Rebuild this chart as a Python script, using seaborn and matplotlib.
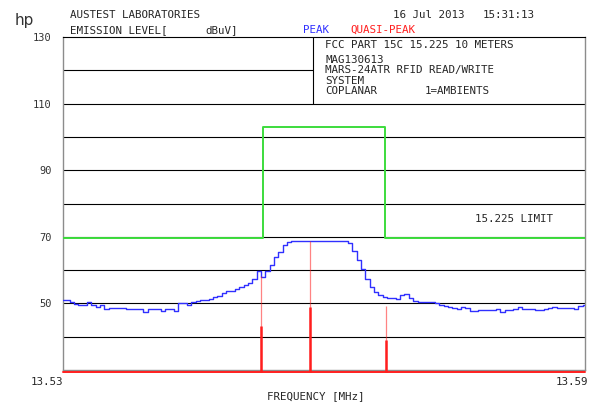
import numpy as np
import pandas as pd
import matplotlib
matplotlib.use("Agg")
import matplotlib.pyplot as plt
import seaborn as sns

# --- datos ---
f_ini, f_fin = 13.53, 13.59

# traza PEAK (dBuV), muestreada cada 0.0005 MHz de 13.53 a 13.59
peak_level = [
    51.0, 51.0, 50.4, 49.9, 49.5, 49.5, 50.4, 49.6, 48.8, 49.5,
    48.4, 48.6, 48.5, 48.5, 48.6, 48.4, 48.3, 48.4, 48.2, 47.3,
    48.3, 48.4, 48.3, 47.8, 48.4, 48.3, 47.6, 50.0, 50.2, 49.6,
    50.5, 50.8, 50.9, 51.1, 51.4, 51.8, 52.2, 53.0, 53.6, 53.8,
    54.4, 55.0, 55.6, 56.0, 57.2, 59.8, 58.0, 59.8, 61.6, 64.0,
    65.5, 67.4, 68.5, 68.7, 68.7, 68.7, 68.7, 68.7, 68.7, 68.7,
    68.7, 68.7, 68.7, 68.7, 68.7, 68.7, 68.0, 65.6, 63.0, 60.4,
    57.2, 54.8, 53.3, 52.4, 51.9, 51.6, 51.5, 51.3, 52.6, 52.8,
    51.6, 50.8, 50.4, 50.5, 50.4, 50.3, 50.0, 49.4, 49.2, 49.0,
    48.6, 48.2, 48.9, 48.6, 47.8, 47.6, 48.0, 48.1, 47.9, 48.0,
    48.2, 47.3, 47.9, 47.9, 48.2, 48.8, 48.4, 48.2, 48.4, 48.1,
    47.9, 48.4, 48.7, 49.0, 48.6, 48.5, 48.5, 48.5, 48.2, 49.2,
    49.4,
]
peak_freq = np.linspace(f_ini, f_fin, len(peak_level))

# limite FCC 15.225 a 10 m
limite_freq = [13.53, 13.553, 13.553, 13.567, 13.567, 13.59]
limite_level = [69.5, 69.5, 103.1, 103.1, 69.5, 69.5]

# mediciones QUASI-PEAK
qp_freq = [13.5528, 13.5584, 13.5671]
qp_level = [43.3, 49.0, 39.1]
qp_peak = [58.3, 68.7, 49.3]
qp_base = 29.3

grid_levels = [40, 50, 60, 70, 80, 90, 100, 110]
ytick_vals = [50, 70, 90, 110, 130]

info_lineas = [
    ("FCC PART 15C 15.225 10 METERS", 45),
    ("MAG130613", 60),
    ("MARS-24ATR RFID READ/WRITE", 70.5),
    ("SYSTEM", 81),
    ("COPLANAR", 91.5),
]

AZUL = "#3030ff"
ROJO = "#ff1e1e"
VERDE = "#3cdc3c"
GRIS = "#8c8c8c"
W, H = 590, 404


def px(x, y):
    return x / W, 1 - y / H


sns.set_style("white")
plt.rcParams["font.family"] = ["DejaVu Sans Mono", "DejaVu Sans"]

fig = plt.figure(figsize=(W / 100, H / 100), dpi=100)
ax = fig.add_axes([63 / W, 1 - 370 / H, 522 / W, 333 / H])
ax.set_xlim(f_ini, f_fin)
ax.set_ylim(30, 130)

# rejilla
for g in grid_levels:
    ax.axhline(g, color="black", lw=0.8, zorder=1)
ax.axhline(120, xmax=0.479, color="black", lw=0.8, zorder=1)
ax.plot([0.479, 0.479], [0.8, 1.0], transform=ax.transAxes, color="black", lw=0.8, zorder=1)

# limite
df_lim = pd.DataFrame({"f": limite_freq, "v": limite_level})
sns.lineplot(data=df_lim, x="f", y="v", sort=False, estimator=None, color=VERDE, lw=1.4, ax=ax, zorder=3)

# traza peak
df_peak = pd.DataFrame({"f": peak_freq, "v": peak_level})
sns.lineplot(data=df_peak, x="f", y="v", estimator=None, color=AZUL, lw=1.0,
             drawstyle="steps-mid", ax=ax, zorder=4)

# quasi-peak
ax.vlines(qp_freq, qp_base, qp_peak, colors=ROJO, lw=0.9, alpha=0.55, zorder=5, clip_on=False)
ax.vlines(qp_freq, qp_base, qp_level, colors=ROJO, lw=1.8, zorder=6, clip_on=False)
ax.axhline(qp_base, color=ROJO, lw=1.4, zorder=6, clip_on=False)

# ejes
for lado in ["left", "bottom", "right"]:
    ax.spines[lado].set_color(GRIS)
    ax.spines[lado].set_linewidth(1.0)
ax.spines["top"].set_color("black")
ax.spines["top"].set_linewidth(0.8)
ax.set_xticks([])
ax.set_yticks(ytick_vals)
ax.set_yticklabels([str(v) for v in ytick_vals], fontsize=7.5, color="#333333")
ax.tick_params(axis="y", length=0, pad=8)
ax.set_xlabel("")
ax.set_ylabel("")

# textos
fs = 7.8
fig.text(*px(15, 20), "hp", fontsize=11, va="center", ha="left", color="#333333", family="DejaVu Sans")
fig.text(*px(70, 15), "AUSTEST LABORATORIES", fontsize=fs, va="center")
fig.text(*px(70, 30), "EMISSION LEVEL[", fontsize=fs, va="center")
fig.text(*px(205, 30), "dBuV]", fontsize=fs, va="center")
fig.text(*px(393, 15), "16 Jul 2013", fontsize=fs, va="center")
fig.text(*px(483, 15), "15:31:13", fontsize=fs, va="center")
fig.text(*px(303, 30), "PEAK", fontsize=fs, va="center", color=AZUL)
fig.text(*px(350, 30), "QUASI-PEAK", fontsize=fs, va="center", color=ROJO)
for texto, yy in info_lineas:
    fig.text(*px(325, yy), texto, fontsize=fs, va="center")
fig.text(*px(425, 91.5), "1=AMBIENTS", fontsize=fs, va="center")
fig.text(*px(475, 219), "15.225 LIMIT", fontsize=fs, va="center")
fig.text(*px(63, 382), "13.53", fontsize=fs, va="center", ha="right")
fig.text(*px(588, 382), "13.59", fontsize=fs, va="center", ha="right")
fig.text(*px(316, 396), "FREQUENCY [MHz]", fontsize=fs, va="center", ha="center")

fig.savefig("out.png", dpi=100)
